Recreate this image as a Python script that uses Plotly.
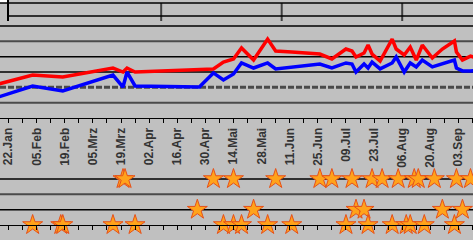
import datetime as dt
import plotly.graph_objects as go

# ---------------- data ----------------
tick_labels = ['22.Jan', '05.Feb', '19.Feb', '05.Mrz', '19.Mrz', '02.Apr', '16.Apr', '30.Apr',
               '14.Mai', '28.Mai', '11.Jun', '25.Jun', '09.Jul', '23.Jul', '06.Aug', '20.Aug', '03.Sep']
first_tick = '2018-01-22'

line_dates = ['2018-01-17', '2018-02-03', '2018-02-18', '2018-03-15', '2018-03-20', '2018-03-22',
              '2018-03-26', '2018-04-27', '2018-05-04', '2018-05-09', '2018-05-14', '2018-05-18',
              '2018-05-24', '2018-05-31', '2018-06-04', '2018-06-12', '2018-06-26', '2018-07-02',
              '2018-07-09', '2018-07-12', '2018-07-14', '2018-07-18', '2018-07-20', '2018-07-22',
              '2018-07-26', '2018-08-01', '2018-08-03', '2018-08-07', '2018-08-10', '2018-08-13',
              '2018-08-16', '2018-08-21', '2018-08-26', '2018-09-01', '2018-09-02', '2018-09-05',
              '2018-09-09', '2018-09-13']
red_values = [2.22, 2.80, 2.67, 3.26, 3.00, 3.26, 3.00, 3.13, 3.20, 3.65, 3.85, 4.57, 3.78, 5.15,
              4.37, 4.31, 4.17, 3.85, 4.50, 4.37, 3.98, 4.24, 4.76, 4.17, 3.72, 5.15, 4.50, 4.11,
              4.63, 3.78, 4.76, 3.91, 4.50, 5.02, 4.31, 3.78, 4.04, 3.85]
blue_values = [1.37, 2.09, 1.76, 2.80, 2.02, 3.00, 2.09, 2.02, 2.94, 2.48, 2.87, 3.59, 3.26, 3.59,
               3.20, 3.33, 3.52, 3.26, 3.59, 3.52, 3.00, 3.52, 3.26, 3.65, 3.20, 3.59, 3.98, 3.00,
               3.59, 3.33, 3.78, 3.33, 3.52, 3.78, 3.26, 3.07, 3.07, 3.13]

stars_row_top = ['2018-03-20', '2018-03-21', '2018-05-04', '2018-05-14', '2018-06-04', '2018-06-26',
                 '2018-07-02', '2018-07-12', '2018-07-22', '2018-07-27', '2018-08-04', '2018-08-12',
                 '2018-08-14', '2018-08-22', '2018-09-02', '2018-09-09']
stars_row_mid = ['2018-04-26', '2018-05-24', '2018-07-14', '2018-07-18', '2018-08-26', '2018-09-05']
stars_row_bottom = ['2018-02-03', '2018-02-17', '2018-02-18', '2018-03-15', '2018-03-26', '2018-05-09',
                    '2018-05-14', '2018-05-18', '2018-05-31', '2018-06-12', '2018-07-09', '2018-07-20',
                    '2018-08-01', '2018-08-08', '2018-08-10', '2018-08-17', '2018-09-01']
row_top, row_mid, row_bottom = 3, 1, 0

period_marks = ['2018-04-08', '2018-06-07', '2018-08-06']

# ---------------- build ----------------
t0 = dt.datetime.strptime(first_tick, '%Y-%m-%d')
tickvals, ticktext = [], []
for i in range(-1, 2 * len(tick_labels) + 1):
    tickvals.append((t0 + dt.timedelta(days=7 * i)).strftime('%Y-%m-%d'))
    ticktext.append(tick_labels[i // 2] if (i >= 0 and i % 2 == 0 and i // 2 < len(tick_labels)) else '')

W, H = 473, 240
x_range = ['2018-01-17 18:00', '2018-09-10 06:00']
px_unit = 15.33

fig = go.Figure()
fig.add_trace(go.Scatter(x=line_dates, y=red_values, mode='lines',
                         line=dict(color='#ff0000', width=3.5), xaxis='x', yaxis='y'))
fig.add_trace(go.Scatter(x=line_dates, y=blue_values, mode='lines',
                         line=dict(color='#0000ff', width=3.5), xaxis='x', yaxis='y'))

star_marker = dict(symbol='star', size=15, color='#ffa31a', line=dict(color='#e6501a', width=1))
for dates, row in [(stars_row_top, row_top), (stars_row_mid, row_mid), (stars_row_bottom, row_bottom)]:
    fig.add_trace(go.Scatter(x=dates, y=[row] * len(dates), mode='markers', marker=star_marker,
                             xaxis='x2', yaxis='y2', cliponaxis=False))

main_bottom_px, bottom_top_px, bottom_row0_px = 118, 170, 225
tick_font = dict(family='Liberation Sans', size=12, color='#333333', weight='bold')

fig.update_layout(
    width=W, height=H, margin=dict(l=0, r=0, t=0, b=0, pad=0, autoexpand=False),
    paper_bgcolor='#c0c0c0', plot_bgcolor='#c0c0c0', showlegend=False,
    xaxis=dict(type='date', range=x_range, domain=[0, 1], anchor='y', automargin=False,
               tickmode='array', tickvals=tickvals, ticktext=ticktext, tickangle=-90,
               ticks='outside', ticklen=4, tickwidth=1, tickcolor='#000000',
               tickfont=tick_font, showgrid=False, zeroline=False,
               showline=True, linecolor='#000000', linewidth=1),
    xaxis2=dict(type='date', matches='x', anchor='free', position=(H - bottom_row0_px) / H,
                overlaying='x', automargin=False, tickmode='array', tickvals=tickvals,
                ticktext=[''] * len(tickvals),
                ticks='outside', ticklen=4, tickwidth=1, tickcolor='#000000',
                showticklabels=False, showgrid=False, zeroline=False,
                showline=True, linecolor='#000000', linewidth=1),
    yaxis=dict(domain=[(H - main_bottom_px) / H, 1], range=[0, main_bottom_px / px_unit],
               visible=False, showgrid=False, zeroline=False, automargin=False),
    yaxis2=dict(domain=[0, (H - bottom_top_px) / H],
                range=[-(H - bottom_row0_px) / px_unit, (bottom_row0_px - bottom_top_px) / px_unit],
                visible=False, showgrid=False, zeroline=False, automargin=False),
)

shapes = []
black = dict(color='#000000', width=1.5)
gray = dict(color='#4a4a4a', width=2)
# main panel rules
for v, ln in [(6, black), (5, gray), (4, black), (3, black), (1, gray)]:
    shapes.append(dict(type='line', xref='paper', yref='y', x0=0, x1=1, y0=v, y1=v, line=ln, layer='below'))
shapes.append(dict(type='line', xref='paper', yref='y', x0=0, x1=1, y0=2, y1=2,
                   line=dict(color='#4a4a4a', width=3, dash='6px,2px'), layer='below'))
# bottom panel rules
for v, ln in [(3, black), (2, gray), (1, black)]:
    shapes.append(dict(type='line', xref='paper', yref='y2', x0=0, x1=1, y0=v, y1=v, line=ln, layer='below'))
# top strip
left = 8 / W
shapes.append(dict(type='rect', xref='paper', yref='paper', x0=0, x1=left, y0=1 - 3 / H, y1=1.01,
                   fillcolor='#ffffff', line=dict(width=0), layer='above'))
for ypx in [3, 16]:
    shapes.append(dict(type='line', xref='paper', yref='paper', x0=left if ypx == 16 else 0, x1=1,
                       y0=1 - ypx / H, y1=1 - ypx / H, line=black, layer='above'))
shapes.append(dict(type='line', xref='paper', yref='paper', x0=left, x1=left, y0=1 - 21 / H, y1=1,
                   line=dict(color='#000000', width=2), layer='above'))
for d in period_marks:
    shapes.append(dict(type='line', xref='x', yref='paper', x0=d, x1=d, y0=1 - 21 / H, y1=1 - 3 / H,
                       line=dict(color='#404040', width=2), layer='below'))
fig.update_layout(shapes=shapes)

fig.write_html('out.html', config={'displayModeBar': False},
               post_script="document.body.style.margin='0px';document.body.style.padding='0px';")
